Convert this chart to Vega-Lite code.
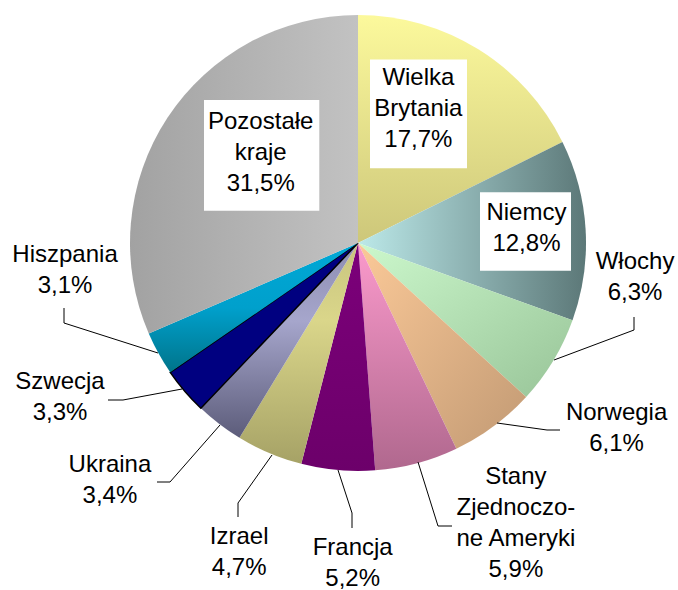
{
  "$schema": "https://vega.github.io/schema/vega-lite/v6.json",
  "width": 456,
  "height": 456,
  "autosize": {"type": "none"},
  "padding": {"left": 130, "top": 15, "right": 92, "bottom": 119},
  "background": "white",
  "config": {"view": {"stroke": null}},
  "data": {
    "values": [
      {"order": 1, "country": "Wielka Brytania", "value": 17.7, "label": "Wielka\nBrytania\n17,7%"},
      {"order": 2, "country": "Niemcy", "value": 12.8, "label": "Niemcy\n12,8%"},
      {"order": 3, "country": "Włochy", "value": 6.3, "label": "Włochy\n6,3%"},
      {"order": 4, "country": "Norwegia", "value": 6.1, "label": "Norwegia\n6,1%"},
      {"order": 5, "country": "Stany Zjednoczone Ameryki", "value": 5.9, "label": "Stany\nZjednoczo-\nne Ameryki\n5,9%"},
      {"order": 6, "country": "Francja", "value": 5.2, "label": "Francja\n5,2%"},
      {"order": 7, "country": "Izrael", "value": 4.7, "label": "Izrael\n4,7%"},
      {"order": 8, "country": "Ukraina", "value": 3.4, "label": "Ukraina\n3,4%"},
      {"order": 9, "country": "Szwecja", "value": 3.3, "label": "Szwecja\n3,3%"},
      {"order": 10, "country": "Hiszpania", "value": 3.1, "label": "Hiszpania\n3,1%"},
      {"order": 11, "country": "Pozostałe kraje", "value": 31.5, "label": "Pozostałe\nkraje\n31,5%"}
    ]
  },
  "transform": [
    {"stack": "value", "groupby": [], "sort": [{"field": "order", "order": "ascending"}], "as": ["v0", "v1"]}
  ],
  "resolve": {"scale": {"theta": "independent", "radius": "independent", "x": "independent", "y": "independent"}},
  "layer": [
    {
      "mark": {"type": "arc", "outerRadius": 228},
      "encoding": {
        "theta": {"field": "v0", "type": "quantitative", "scale": {"domain": [0, 100], "range": [0, 6.283185307179586], "zero": false, "nice": false}},
        "theta2": {"field": "v1"},
        "fill": {
          "condition": [
            {"test": "datum.country === 'Wielka Brytania'", "value": {"gradient": "linear", "x1": 0, "y1": 0, "x2": 0, "y2": 1, "stops": [{"offset": 0, "color": "#fcf99c"}, {"offset": 1, "color": "#cdc77a"}]}},
            {"test": "datum.country === 'Niemcy'", "value": {"gradient": "linear", "x1": 0, "y1": 0, "x2": 1, "y2": 0, "stops": [{"offset": 0, "color": "#bce9e9"}, {"offset": 1, "color": "#5c7878"}]}},
            {"test": "datum.country === 'Włochy'", "value": {"gradient": "linear", "x1": 0, "y1": 0, "x2": 1, "y2": 1, "stops": [{"offset": 0, "color": "#ccf8cc"}, {"offset": 1, "color": "#98c498"}]}},
            {"test": "datum.country === 'Norwegia'", "value": {"gradient": "linear", "x1": 0, "y1": 0, "x2": 1, "y2": 1, "stops": [{"offset": 0, "color": "#fbc998"}, {"offset": 1, "color": "#c29a74"}]}},
            {"test": "datum.country === 'Stany Zjednoczone Ameryki'", "value": {"gradient": "linear", "x1": 0, "y1": 0, "x2": 0, "y2": 1, "stops": [{"offset": 0, "color": "#fb9acc"}, {"offset": 1, "color": "#b0688e"}]}},
            {"test": "datum.country === 'Francja'", "value": {"gradient": "linear", "x1": 0, "y1": 0, "x2": 0, "y2": 1, "stops": [{"offset": 0, "color": "#7c007a"}, {"offset": 1, "color": "#6c006a"}]}},
            {"test": "datum.country === 'Izrael'", "value": {"gradient": "linear", "x1": 0, "y1": 0, "x2": 0, "y2": 1, "stops": [{"offset": 0, "color": "#c8c47e"}, {"offset": 0.35, "color": "#dad68a"}, {"offset": 1, "color": "#a6a266"}]}},
            {"test": "datum.country === 'Ukraina'", "value": {"gradient": "linear", "x1": 0, "y1": 0, "x2": 0, "y2": 1, "stops": [{"offset": 0, "color": "#8c8cb0"}, {"offset": 0.4, "color": "#a6a6cc"}, {"offset": 1, "color": "#5c5c7a"}]}},
            {"test": "datum.country === 'Szwecja'", "value": "#000080"},
            {"test": "datum.country === 'Hiszpania'", "value": {"gradient": "linear", "x1": 0, "y1": 0, "x2": 0, "y2": 1, "stops": [{"offset": 0, "color": "#00a8d6"}, {"offset": 0.5, "color": "#00a0cc"}, {"offset": 1, "color": "#00748a"}]}}
          ],
          "value": {"gradient": "linear", "x1": 0, "y1": 0, "x2": 1, "y2": 0, "stops": [{"offset": 0, "color": "#a2a2a2"}, {"offset": 1, "color": "#c2c2c2"}]}
        },
        "stroke": {"condition": {"test": "datum.country === 'Szwecja'", "value": "#000000"}, "value": null},
        "strokeWidth": {"value": 1.5}
      }
    },
    {
      "transform": [
        {"filter": "datum.value >= 10"},
        {"fold": ["v0", "v1"], "as": ["edge", "angle"]},
        {"aggregate": [{"op": "mean", "field": "angle", "as": "mid"}, {"op": "min", "field": "angle", "as": "start"}], "groupby": ["country"]}
      ],
      "mark": {"type": "rect", "fill": "#ffffff"},
      "encoding": {
        "x": {"field": "start", "type": "quantitative", "axis": null, "scale": {"domain": [0, 8.85, 17.7, 24.1, 68.5, 84.25], "range": [240, 337, 350, 441, 74, 189.3], "zero": false, "nice": false}},
        "x2": {"field": "mid"},
        "y": {"field": "start", "type": "quantitative", "axis": null, "scale": {"domain": [0, 8.85, 17.7, 24.1, 68.5, 84.25], "range": [44.5, 153.3, 177.3, 255.7, 85, 195.7], "zero": false, "nice": false}},
        "y2": {"field": "mid"}
      }
    },
    {
      "transform": [
        {"filter": "datum.value < 10"},
        {"fold": ["v0", "v1"], "as": ["edge", "angle"]},
        {"aggregate": [{"op": "mean", "field": "angle", "as": "mid"}, {"op": "min", "field": "angle", "as": "start"}], "groupby": ["country", "value"]},
        {"fold": ["mid", "start", "value"], "as": ["part", "pt"]}
      ],
      "mark": {"type": "line", "stroke": "#000000", "strokeWidth": 1},
      "encoding": {
        "x": {"field": "pt", "type": "quantitative", "axis": null, "scale": {"domain": [3.1, 3.3, 3.4, 4.7, 5.2, 5.9, 6.1, 6.3, 30.5, 33.65, 36.8, 39.85, 42.9, 45.85, 48.8, 51.4, 54, 56.35, 58.7, 60.4, 62.1, 63.75, 65.4, 66.95], "range": [-66, -22, 27, 108, 222, 322, 430, 504, 504, 424, 417, 367, 308, 288, 222, 208, 108, 142, 40, 90, -7, 52, -66, 28], "zero": false, "nice": false}},
        "y": {"field": "pt", "type": "quantitative", "axis": null, "scale": {"domain": [3.1, 3.3, 3.4, 4.7, 5.2, 5.9, 6.1, 6.3, 30.5, 33.65, 36.8, 39.85, 42.9, 45.85, 48.8, 51.4, 54, 56.35, 58.7, 60.4, 62.1, 63.75, 65.4, 66.95], "range": [293, 385, 467, 502, 513, 511, 415, 302, 315, 345, 415, 408, 511, 447, 498, 455, 488, 440, 467, 410, 385, 374, 308, 338], "zero": false, "nice": false}},
        "detail": {"field": "country", "type": "nominal"},
        "order": {"field": "part", "type": "ordinal"}
      }
    },
    {
      "transform": [
        {"filter": "datum.value >= 10"},
        {"fold": ["v0", "v1"], "as": ["edge", "angle"]},
        {"aggregate": [{"op": "mean", "field": "angle", "as": "mid"}], "groupby": ["country", "label"]}
      ],
      "mark": {"type": "text", "font": "Liberation Sans", "fontSize": 24, "lineHeight": 31, "lineBreak": "\n", "align": "center", "baseline": "middle", "fill": "#000000"},
      "encoding": {
        "theta": {"field": "mid", "type": "quantitative", "scale": {"domain": [8.85, 24.1, 84.25], "range": [0.35081, 1.39452, 5.60774], "zero": false, "nice": false}},
        "radius": {"field": "mid", "type": "quantitative", "scale": {"type": "linear", "domain": [8.85, 24.1, 84.25], "range": [175.7, 171.1, 155.6], "zero": false, "nice": false}},
        "text": {"field": "label"}
      }
    },
    {
      "transform": [
        {"filter": "datum.value < 10"},
        {"fold": ["v0", "v1"], "as": ["edge", "angle"]},
        {"aggregate": [{"op": "mean", "field": "angle", "as": "mid"}], "groupby": ["country", "label"]}
      ],
      "mark": {"type": "text", "font": "Liberation Sans", "fontSize": 24, "lineHeight": 31, "lineBreak": "\n", "align": "center", "baseline": "middle", "fill": "#000000"},
      "encoding": {
        "theta": {"field": "mid", "type": "quantitative", "scale": {"domain": [33.65, 39.85, 45.85, 51.4, 56.35, 60.4, 63.75, 66.95], "range": [1.63887, 2.15199, 2.54818, 3.15905, 3.52557, 3.98284, 4.27606, 4.67138], "zero": false, "nice": false}},
        "radius": {"field": "mid", "type": "quantitative", "scale": {"type": "linear", "domain": [33.65, 39.85, 45.85, 51.4, 56.35, 60.4, 63.75, 66.95], "range": [277.7, 309.4, 282.3, 305, 317.2, 332.8, 328.8, 293.2], "zero": false, "nice": false}},
        "text": {"field": "label"}
      }
    }
  ]
}
